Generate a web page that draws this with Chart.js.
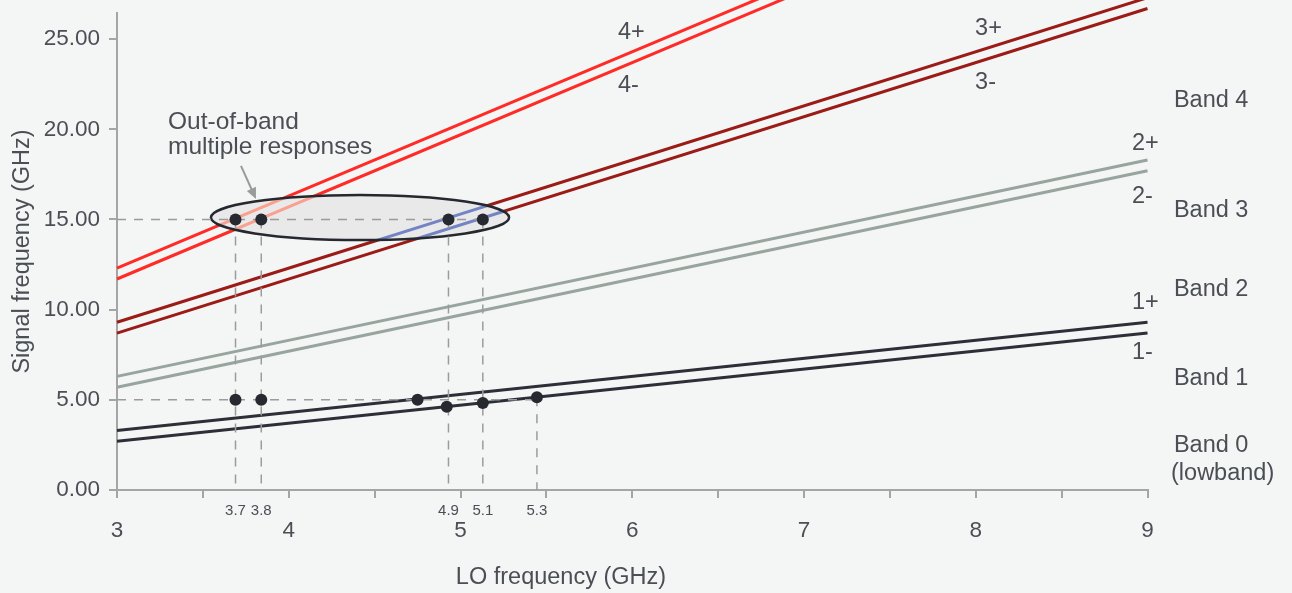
<!DOCTYPE html>
<html>
<head>
<meta charset="utf-8">
<title>Harmonic mixing responses</title>
<script src="https://cdn.jsdelivr.net/npm/chart.js@4.4.1/dist/chart.umd.min.js"></script>
<style>
  html, body { margin: 0; padding: 0; background: #f4f5f5; }
  #wrap { width: 1292px; height: 593px; position: relative; }
</style>
</head>
<body>
<div id="wrap"><canvas id="chart"></canvas></div>
<script>
// LO frequency (GHz) at the two ends of every response line
const loRange = [3, 9];

// signal frequency (GHz) at loRange ends, one pair per harmonic response
const band1Plus = [3.3, 9.3];
const band1Minus = [2.7, 8.7];
const band2Plus = [6.3, 18.3];
const band2Minus = [5.7, 17.7];
const band3Plus = [9.3, 27.3];
const band3Minus = [8.7, 26.7];
const band4Plus = [12.3, 36.3];
const band4Minus = [11.7, 35.7];

// responses hit by a 15 GHz and a 5 GHz input
const highLevel = 15;
const highHitsLo = [3.69, 3.84, 4.93, 5.13];
const lowLevel = 5;
const lowHitsLo = [3.69, 3.84, 4.75, 4.92, 5.13, 5.445];
const lowHitsSig = [5.0, 5.0, 5.0, 4.62, 4.83, 5.14];

// dashed drop lines to the LO axis and their labels
const dropLo = [3.69, 3.84, 4.93, 5.13, 5.445];
const dropTop = [15, 15, 15, 15, 5.14];
const dropLabels = ['3.7', '3.8', '4.9', '5.1', '5.3'];

// axis ticks
const xTickValues = [3, 3.5, 4, 4.5, 5, 5.5, 6, 6.5, 7, 7.5, 8, 8.5, 9];
const yTickValues = [0, 5, 10, 15, 20, 25];

const TEXT = '#4a4f55';
const AXIS = '#a5a5a5';
const FONT = '"Liberation Sans", Arial, Helvetica, sans-serif';
Chart.defaults.font.family = FONT;

const line = (vals, color) => ({
  data: loRange.map((x, i) => ({ x, y: vals[i] })),
  showLine: true, borderColor: color, borderWidth: 3, pointRadius: 0, clip: false
});

const guide = pts => ({
  guide: true,
  data: pts, showLine: true, borderColor: '#9b9b9b', borderWidth: 1.5,
  borderDash: [9, 8], pointRadius: 0
});

const guides = [
  guide([{ x: loRange[0], y: highLevel }, { x: Math.max(...highHitsLo), y: highLevel }]),
  guide([{ x: loRange[0], y: lowLevel }, { x: Math.max(...lowHitsLo), y: lowLevel }]),
  ...dropLo.map((x, i) => guide([{ x, y: dropTop[i] }, { x, y: 0 }]))
];

const dots = (pts) => ({
  data: pts, showLine: false, pointRadius: 6, pointHoverRadius: 6,
  pointBackgroundColor: '#26292f', pointBorderWidth: 0
});

const bands = [
  line(band4Plus, '#ff2b26'), line(band4Minus, '#ff2b26'),
  line(band3Plus, '#9b1b17'), line(band3Minus, '#9b1b17'),
  line(band2Plus, '#98a49e'), line(band2Minus, '#98a49e'),
  line(band1Plus, '#2c2f37'), line(band1Minus, '#2c2f37')
];

// ellipse around the out-of-band hits (data units)
const ring = { lo: 4.415, sig: 15.11, dLo: 0.868, dSig: 1.248 };

// text placed in data units
const notes = [
  { t: '4+', lo: 5.917, sig: 25.35 }, { t: '4-', lo: 5.917, sig: 22.41 },
  { t: '3+', lo: 7.996, sig: 25.6 }, { t: '3-', lo: 7.996, sig: 22.6 },
  { t: '2+', lo: 8.91, sig: 19.19 }, { t: '2-', lo: 8.91, sig: 16.25 },
  { t: '1+', lo: 8.91, sig: 10.37 }, { t: '1-', lo: 8.91, sig: 7.6 },
  { t: 'Band 4', lo: 9.154, sig: 21.58 }, { t: 'Band 3', lo: 9.154, sig: 15.47 },
  { t: 'Band 2', lo: 9.154, sig: 11.09 }, { t: 'Band 1', lo: 9.154, sig: 6.16 },
  { t: 'Band 0', lo: 9.154, sig: 2.44 }, { t: '(lowband)', lo: 9.137, sig: 0.89 }
];
const callout = [
  { t: 'Out-of-band', lo: 3.297, sig: 20.41 },
  { t: 'multiple responses', lo: 3.297, sig: 19.02 }
];

function strokeVals(ctx, xs, ys, vals, color) {
  ctx.beginPath();
  loRange.forEach((x, i) => {
    const px = xs.getPixelForValue(x), py = ys.getPixelForValue(vals[i]);
    i ? ctx.lineTo(px, py) : ctx.moveTo(px, py);
  });
  ctx.strokeStyle = color;
  ctx.lineWidth = 3;
  ctx.stroke();
}

function drawRing(chart) {
  const { ctx, scales: { x: xs, y: ys } } = chart;
  const cx = xs.getPixelForValue(ring.lo), cy = ys.getPixelForValue(ring.sig);
  const rx = xs.getPixelForValue(ring.lo + ring.dLo) - cx;
  const ry = cy - ys.getPixelForValue(ring.sig + ring.dSig);
  ctx.save();
  ctx.beginPath();
  ctx.ellipse(cx, cy, rx, ry, 0, 0, Math.PI * 2);
  ctx.fillStyle = '#e9e9ea';
  ctx.fill();
  ctx.clip();
  strokeVals(ctx, xs, ys, band4Plus, '#f9a08e');
  strokeVals(ctx, xs, ys, band4Minus, '#f9a08e');
  strokeVals(ctx, xs, ys, band3Plus, '#7383c4');
  strokeVals(ctx, xs, ys, band3Minus, '#7383c4');
  ctx.restore();
  ctx.save();
  ctx.beginPath();
  ctx.ellipse(cx, cy, rx, ry, 0, 0, Math.PI * 2);
  ctx.strokeStyle = '#25282e';
  ctx.lineWidth = 2.5;
  ctx.stroke();
  ctx.restore();
}

const annotate = {
  id: 'annotate',
  beforeDatasetsDraw(chart) { chart.$ringDone = false; },
  beforeDatasetDraw(chart, args) {
    const ds = chart.data.datasets[args.index];
    if (!ds.guide || chart.$ringDone) return;
    chart.$ringDone = true;
    drawRing(chart);
  },
  afterDraw(chart) {
    const { ctx, scales: { x: xs, y: ys } } = chart;
    ctx.save();
    ctx.fillStyle = TEXT;
    ctx.textBaseline = 'middle';
    ctx.textAlign = 'left';
    ctx.font = '23.5px ' + FONT;
    notes.forEach(n => ctx.fillText(n.t, xs.getPixelForValue(n.lo), ys.getPixelForValue(n.sig)));
    ctx.font = '24.5px ' + FONT;
    callout.forEach(n => ctx.fillText(n.t, xs.getPixelForValue(n.lo), ys.getPixelForValue(n.sig)));

    // x title sits left of the axis centre in the original
    ctx.font = '23.5px ' + FONT;
    ctx.textAlign = 'center';
    ctx.fillText('LO frequency (GHz)', xs.getPixelForValue(5.585), ys.getPixelForValue(-4.83));

    // small labels under the drop lines
    ctx.font = '15px ' + FONT;
    dropLo.forEach((x, i) => ctx.fillText(dropLabels[i], xs.getPixelForValue(x), ys.getPixelForValue(-1.16)));

    // arrow to the ellipse
    const x0 = xs.getPixelForValue(3.722), y0 = ys.getPixelForValue(17.97);
    const x1 = xs.getPixelForValue(3.809), y1 = ys.getPixelForValue(16.14);
    const a = Math.atan2(y1 - y0, x1 - x0);
    ctx.strokeStyle = '#9a9a9a';
    ctx.fillStyle = '#9a9a9a';
    ctx.lineWidth = 2;
    ctx.beginPath();
    ctx.moveTo(x0, y0);
    ctx.lineTo(x1 - 6 * Math.cos(a), y1 - 6 * Math.sin(a));
    ctx.stroke();
    ctx.beginPath();
    ctx.moveTo(x1, y1);
    ctx.lineTo(x1 - 11 * Math.cos(a) + 5 * Math.sin(a), y1 - 11 * Math.sin(a) - 5 * Math.cos(a));
    ctx.lineTo(x1 - 11 * Math.cos(a) - 5 * Math.sin(a), y1 - 11 * Math.sin(a) + 5 * Math.cos(a));
    ctx.closePath();
    ctx.fill();
    ctx.restore();
  }
};

new Chart(document.getElementById('chart'), {
  type: 'scatter',
  data: {
    datasets: [
      dots(highHitsLo.map(x => ({ x, y: highLevel }))),
      dots(lowHitsLo.map((x, i) => ({ x, y: lowHitsSig[i] }))),
      ...guides,
      ...bands
    ]
  },
  options: {
    responsive: true,
    maintainAspectRatio: false,
    animation: false,
    events: [],
    layout: { padding: { top: 13, right: 144.5, bottom: 0, left: 0 } },
    plugins: { legend: { display: false }, tooltip: { enabled: false } },
    scales: {
      x: {
        type: 'linear', min: 3, max: 9,
        afterFit: s => { s.height = 103; s.paddingLeft = 0; s.paddingRight = 0; },
        afterBuildTicks: s => { s.ticks = xTickValues.map(value => ({ value })); },
        border: { color: AXIS, width: 2 },
        grid: { drawOnChartArea: false, color: AXIS, lineWidth: 2, tickLength: 8 },
        ticks: {
          color: TEXT, font: { size: 22.5 }, padding: 19, maxRotation: 0, autoSkip: false,
          callback: v => Number.isInteger(v) ? String(v) : ''
        }
      },
      y: {
        type: 'linear', min: 0, max: 26.45,
        afterFit: s => { s.width = 117; s.paddingTop = 0; s.paddingBottom = 0; },
        afterBuildTicks: s => { s.ticks = yTickValues.map(value => ({ value })); },
        border: { color: AXIS, width: 2 },
        grid: { drawOnChartArea: false, color: AXIS, lineWidth: 2, tickLength: 8 },
        ticks: { color: TEXT, font: { size: 22.5 }, padding: 9, callback: v => v.toFixed(2) },
        title: {
          display: true, text: 'Signal frequency (GHz)', color: TEXT,
          font: { size: 23.5 }, padding: { top: 8, bottom: 0 }
        }
      }
    }
  },
  plugins: [annotate]
});
</script>
</body>
</html>
